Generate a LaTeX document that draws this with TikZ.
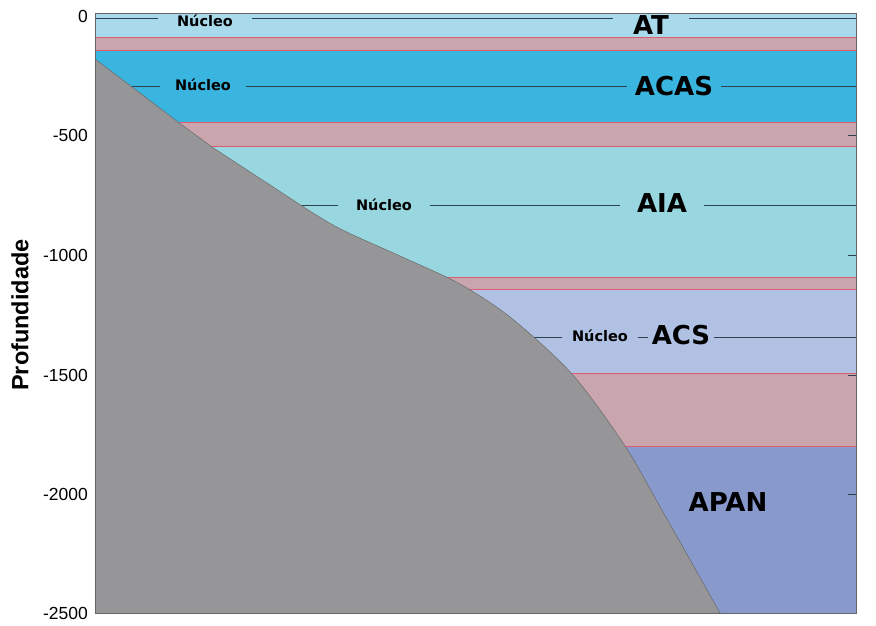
\documentclass[tikz,border=0pt]{standalone}
\usepackage{fontspec}
\setmainfont{Liberation Sans}
\newfontfamily\dejavu{DejaVu Sans}
\definecolor{cAT}{RGB}{169,218,236}
\definecolor{cACAS}{RGB}{58,181,224}
\definecolor{cAIA}{RGB}{152,215,223}
\definecolor{cACS}{RGB}{176,193,228}
\definecolor{cAPAN}{RGB}{136,153,204}
\definecolor{cMix}{RGB}{201,166,173}
\definecolor{cRed}{RGB}{222,92,112}
\definecolor{cFloor}{RGB}{150,150,152}
\definecolor{cCore}{RGB}{45,65,78}
\tikzset{
    RL/.style ={draw=cRed, line width=0.8pt},
    CL/.style ={draw=cCore, line width=0.9pt},
    NU/.style ={font=\dejavu\bfseries\fontsize{14.5}{15}\selectfont, inner ysep=0pt},
    MA/.style ={font=\dejavu\bfseries\fontsize{26}{26}\selectfont, inner ysep=0pt},
    TK/.style ={font=\fontsize{17.5}{18}\selectfont, anchor=east, inner sep=0pt}}
\begin{document}
\begin{tikzpicture}[x=1pt,y=-1pt]
        \useasboundingbox (0,0) rectangle (876,625);
        \fill[cAT] (95,13) rectangle (856,37);
        \fill[cMix] (95,37) rectangle (856,50);
        \fill[cACAS] (95,50) rectangle (856,122);
        \fill[cMix] (95,122) rectangle (856,146);
        \fill[cAIA] (95,146) rectangle (856,277);
        \fill[cMix] (95,277) rectangle (856,289);
        \fill[cACS] (95,289) rectangle (856,373);
        \fill[cMix] (95,373) rectangle (856,446);
        \fill[cAPAN] (95,446) rectangle (856,613);
        \foreach \y in {37,50,122,146,277,289,373,446}
            \draw[RL] (95,\y) -- (856,\y);
        \foreach \y in {135,255,375,494}
            \draw[CL] (848,\y) -- (856,\y);
        \coordinate (l1) at (95,18);  \coordinate (r1) at (856,18);
        \coordinate (l2) at (95,86);  \coordinate (r2) at (856,86);
        \coordinate (l3) at (95,205); \coordinate (r3) at (856,205);
        \coordinate (l4) at (95,337); \coordinate (r4) at (856,337);
        \node[NU,inner xsep=19pt] (n1) at (205,21) {Núcleo};
        \node[MA,inner xsep=20pt] (m1) at (651,25) {AT};
        \node[NU,inner xsep=15pt] (n2) at (203,85) {Núcleo};
        \node[MA,inner xsep=8pt] (m2) at (674,86) {ACAS};
        \node[NU,inner xsep=18pt] (n3) at (384,205) {Núcleo};
        \node[MA,inner xsep=17pt] (m3) at (662,203) {AIA};
        \node[NU,inner xsep=10pt] (n4) at (600,336) {Núcleo};
        \node[MA,inner xsep=4pt] (m4) at (681,335) {ACS};
        \node[MA] (m5) at (728,502) {APAN};
        \draw[CL] (l1) -- (n1.west |- l1) (n1.east |- l1) -- (m1.west |- l1) (m1.east |- l1) -- (r1);
        \draw[CL] (l2) -- (n2.west |- l2) (n2.east |- l2) -- (m2.west |- l2) (m2.east |- l2) -- (r2);
        \draw[CL] (l3) -- (n3.west |- l3) (n3.east |- l3) -- (m3.west |- l3) (m3.east |- l3) -- (r3);
        \draw[CL] (l4) -- (n4.west |- l4) (n4.east |- l4) -- (m4.west |- l4) (m4.east |- l4) -- (r4);
        \fill[cFloor] (95,59) -- (132,87) -- (178,122)
            -- plot[smooth] coordinates {(212,147) (267,183) (333,225) (400,256) (458,283) (510,317) (572,374) (625,446) (663,512) (720,613)}
            -- (95,613) -- cycle;
        \draw[cFloor!70!black, line width=0.5pt] (95,59) -- (132,87) -- (178,122)
            -- plot[smooth] coordinates {(212,147) (267,183) (333,225) (400,256) (458,283) (510,317) (572,374) (625,446) (663,512) (720,613)};
        \draw[gray!80!black, line width=1pt] (95,13) rectangle (856,613);
        \foreach \d/\y in {0/16,-500/135,-1000/255,-1500/375,-2000/494,-2500/613}
            \node[TK] at (88,\y) {\d};
        \node[rotate=90, font=\bfseries\fontsize{23.5}{24}\selectfont] (yl) at (20,315) {Profundidade};
    \end{tikzpicture}
\end{document}
